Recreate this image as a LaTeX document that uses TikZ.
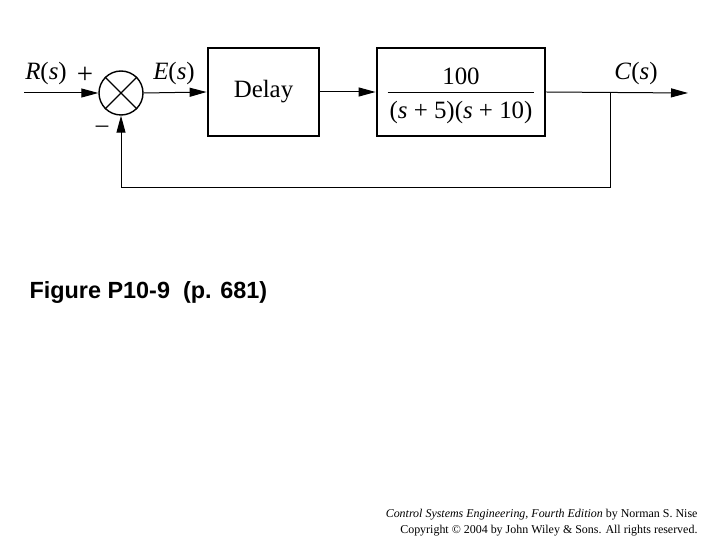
\documentclass[tikz,border=0pt]{standalone}
\usepackage{fontspec}
\setmainfont{Liberation Serif}
\newfontfamily\capfont{Liberation Sans}
\usetikzlibrary{arrows.meta}

\tikzset{
  blockbox/.style={draw=black, line width=2.8bp, minimum width=111bp, minimum height=88bp, inner sep=0pt},
  sumcirc/.style={draw=black, line width=1.4bp, circle, minimum size=44bp, inner sep=0pt},
  sig/.style={line width=1bp, -{Triangle[length=17bp, width=9bp]}},
  lbl/.style={font=\fontsize{25}{27}\selectfont}
}
\newcommand{\sig}[1]{\textit{#1}(\textit{s})}

\begin{document}
\begin{tikzpicture}[x=1bp, y=-1bp]
\useasboundingbox (0,0) rectangle (720,540);
% blocks
\node[sumcirc] (sum) at (121,93) {};
\draw[line width=1.4bp] (sum.45) -- (sum.225);
\draw[line width=1.4bp] (sum.135) -- (sum.315);
\node[blockbox, lbl] (delay) at (263.5,92) {Delay};
\node[blockbox, minimum width=168bp, lbl] (plant) at (461,92)
  {\setlength{\tabcolsep}{2bp}\renewcommand{\arraystretch}{0.95}%
   \begin{tabular}{c}\rule{0pt}{27bp}100\\\hline\rule{0pt}{26bp}(\textit{s} + 5)(\textit{s} + 10)\end{tabular}};
% signal points
\coordinate (in) at (24,93);
\coordinate (branch) at (610,93);
\coordinate (out) at (688,93);
\coordinate (fbr) at (610,188);
\coordinate (fbl) at (121,188);
% connectors
\draw[sig] (in) -- (sum.west);
\draw[sig] (sum.east) -- (delay.west);
\draw[sig] (delay.east) -- (plant.west);
\draw[sig] (plant.east) -- (out);
\draw[line width=1bp] (branch) -- (fbr) -- (fbl);
\draw[sig] (fbl) -- (sum.south);
% labels
\node[lbl] (rlab) at (46,74) {\sig{R}};
\node[font=\fontsize{29}{30}\selectfont] (plus) at (85,75) {+};
\node[lbl] (minus) at (102,129) {\textendash};
\node[lbl] (elab) at (174,74) {\sig{E}};
\node[lbl] (clab) at (636,74) {\sig{C}};
% caption and credit
\node[anchor=west, font=\capfont\bfseries\fontsize{23.5}{26}\selectfont] (cap) at (26,292) {Figure P10-9\ \ (p. 681)};
\node[anchor=east, align=right, font=\fontsize{12}{16}\selectfont] (credit) at (701,523)
  {\textit{Control Systems Engineering, Fourth Edition} by Norman S. Nise\\Copyright \textcopyright{} 2004 by John Wiley \& Sons. All rights reserved.};
\end{tikzpicture}
\end{document}
